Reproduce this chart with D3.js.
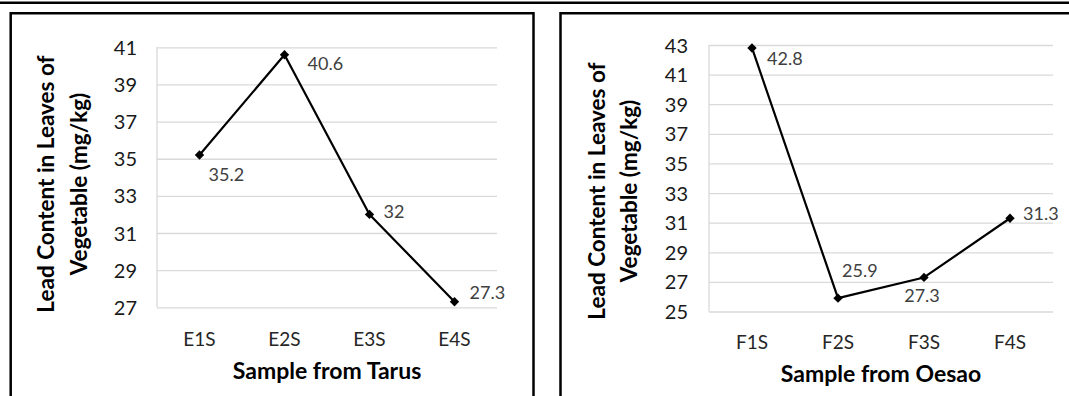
<!DOCTYPE html>
<html>
<head>
<meta charset="utf-8">
<script src="https://cdn.jsdelivr.net/npm/d3@7"></script>
<style>
  html, body { margin: 0; padding: 0; background: #fff; }
  svg { display: block; }
  text { font-family: Lato, "Open Sans", sans-serif; }
</style>
</head>
<body>
<svg id="chart" width="1069" height="396"></svg>
<script>
// ---- data ----
const tarusCategories = ["E1S", "E2S", "E3S", "E4S"];
const tarusValues = [35.2, 40.6, 32, 27.3];
const tarusTicks = [27, 29, 31, 33, 35, 37, 39, 41];
const tarusXTitle = "Sample from Tarus";

const oesaoCategories = ["F1S", "F2S", "F3S", "F4S"];
const oesaoValues = [42.8, 25.9, 27.3, 31.3];
const oesaoTicks = [25, 27, 29, 31, 33, 35, 37, 39, 41, 43];
const oesaoXTitle = "Sample from Oesao";

const yTitleLines = ["Lead Content in Leaves of", "Vegetable (mg/kg)"];

// ---- layout ----
const svg = d3.select("#chart");
svg.append("rect").attr("width", 1069).attr("height", 396).attr("fill", "#fff");

// top rule
svg.append("line").attr("x1", 0).attr("x2", 1069).attr("y1", 2.8).attr("y2", 2.8)
  .attr("stroke", "#000").attr("stroke-width", 2.5);

const panels = [
  {
    cats: tarusCategories, vals: tarusValues, ticks: tarusTicks, xTitle: tarusXTitle,
    box: { x0: 10.7, x1: 533.5, y0: 13.3 },
    plot: { left: 157, right: 497, top: 47.3, bottom: 307.3 },
    tickRight: 137, catY: 339, xTitleY: 371,
    yTitleX: [46, 79], yTitleY: 184,
    labelOff: [[9, 20], [23, 9], [14, -3], [15, -9]], labelAnchor: ["start", "start", "start", "start"]
  },
  {
    cats: oesaoCategories, vals: oesaoValues, ticks: oesaoTicks, xTitle: oesaoXTitle,
    box: { x0: 560.5, x1: 1080, y0: 13.3 },
    plot: { left: 709, right: 1053, top: 45, bottom: 311.5 },
    tickRight: 688, catY: 342, xTitleY: 374,
    yTitleX: [597, 629], yTitleY: 191,
    labelOff: [[15, 11], [4, -27], [-2, 18], [13, -5]], labelAnchor: ["start", "start", "middle", "start"]
  }
];

panels.forEach(p => {
  const g = svg.append("g");

  // panel border (open at bottom)
  g.append("path")
    .attr("d", `M${p.box.x0},400 L${p.box.x0},${p.box.y0} L${p.box.x1},${p.box.y0} L${p.box.x1},400`)
    .attr("fill", "none").attr("stroke", "#000").attr("stroke-width", 2.5);

  const x = d3.scaleBand().domain(p.cats).range([p.plot.left, p.plot.right]).padding(0);
  const y = d3.scaleLinear().domain([d3.min(p.ticks), d3.max(p.ticks)]).range([p.plot.bottom, p.plot.top]);

  // gridlines
  const grid = g.append("g").attr("transform", `translate(${p.plot.left},0)`)
    .call(d3.axisLeft(y).tickValues(p.ticks).tickSize(-(p.plot.right - p.plot.left)).tickFormat(""));
  grid.select(".domain").remove();
  grid.selectAll(".tick line").attr("stroke", "#d9d9d9").attr("stroke-width", 1.3);

  // left axis line
  g.append("line").attr("x1", p.plot.left).attr("x2", p.plot.left)
    .attr("y1", p.plot.top).attr("y2", p.plot.bottom)
    .attr("stroke", "#d9d9d9").attr("stroke-width", 1.3);

  // y tick labels
  const yAx = g.append("g").attr("transform", `translate(${p.tickRight},0)`)
    .call(d3.axisLeft(y).tickValues(p.ticks).tickSize(0).tickPadding(0).tickFormat(d3.format("d")));
  yAx.select(".domain").remove();
  yAx.selectAll("text").attr("font-size", 20).attr("fill", "#1a1a1a").attr("font-family", "Lato")
    .attr("dy", "0.35em");

  // x category labels
  const xAx = g.append("g").attr("transform", `translate(0,${p.catY})`)
    .call(d3.axisBottom(x).tickSize(0).tickPadding(0));
  xAx.select(".domain").remove();
  xAx.selectAll("text").attr("font-size", 19).attr("fill", "#262626").attr("font-family", "Lato")
    .attr("dy", "0.35em");

  // line
  const line = d3.line().x((d, i) => x(p.cats[i]) + x.bandwidth() / 2).y(d => y(d));
  g.append("path").datum(p.vals).attr("d", line)
    .attr("fill", "none").attr("stroke", "#000").attr("stroke-width", 2.2).attr("stroke-linejoin", "round");

  // markers
  g.selectAll(".mk").data(p.vals).enter().append("path")
    .attr("transform", (d, i) => `translate(${x(p.cats[i]) + x.bandwidth() / 2},${y(d)}) rotate(45)`)
    .attr("d", "M-3.3,-3.3L3.3,-3.3L3.3,3.3L-3.3,3.3Z").attr("fill", "#000");

  // data labels
  g.selectAll(".lbl").data(p.vals).enter().append("text")
    .attr("x", (d, i) => x(p.cats[i]) + x.bandwidth() / 2 + p.labelOff[i][0])
    .attr("y", (d, i) => y(d) + p.labelOff[i][1])
    .attr("dy", "0.35em")
    .attr("text-anchor", (d, i) => p.labelAnchor[i])
    .attr("font-size", 18).attr("fill", "#404040")
    .text(d => d);

  // x title
  g.append("text")
    .attr("x", (p.plot.left + p.plot.right) / 2).attr("y", p.xTitleY).attr("dy", "0.35em")
    .attr("text-anchor", "middle").attr("font-size", 23).attr("font-weight", "bold").attr("fill", "#000")
    .text(p.xTitle);

  // y title (two lines, rotated)
  yTitleLines.forEach((t, i) => {
    g.append("text")
      .attr("transform", `translate(${p.yTitleX[i]},${p.yTitleY}) rotate(-90)`)
      .attr("dy", "0.35em").attr("text-anchor", "middle")
      .attr("font-size", 22.5).attr("font-weight", "bold").attr("fill", "#000")
      .text(t);
  });
});
</script>
</body>
</html>
